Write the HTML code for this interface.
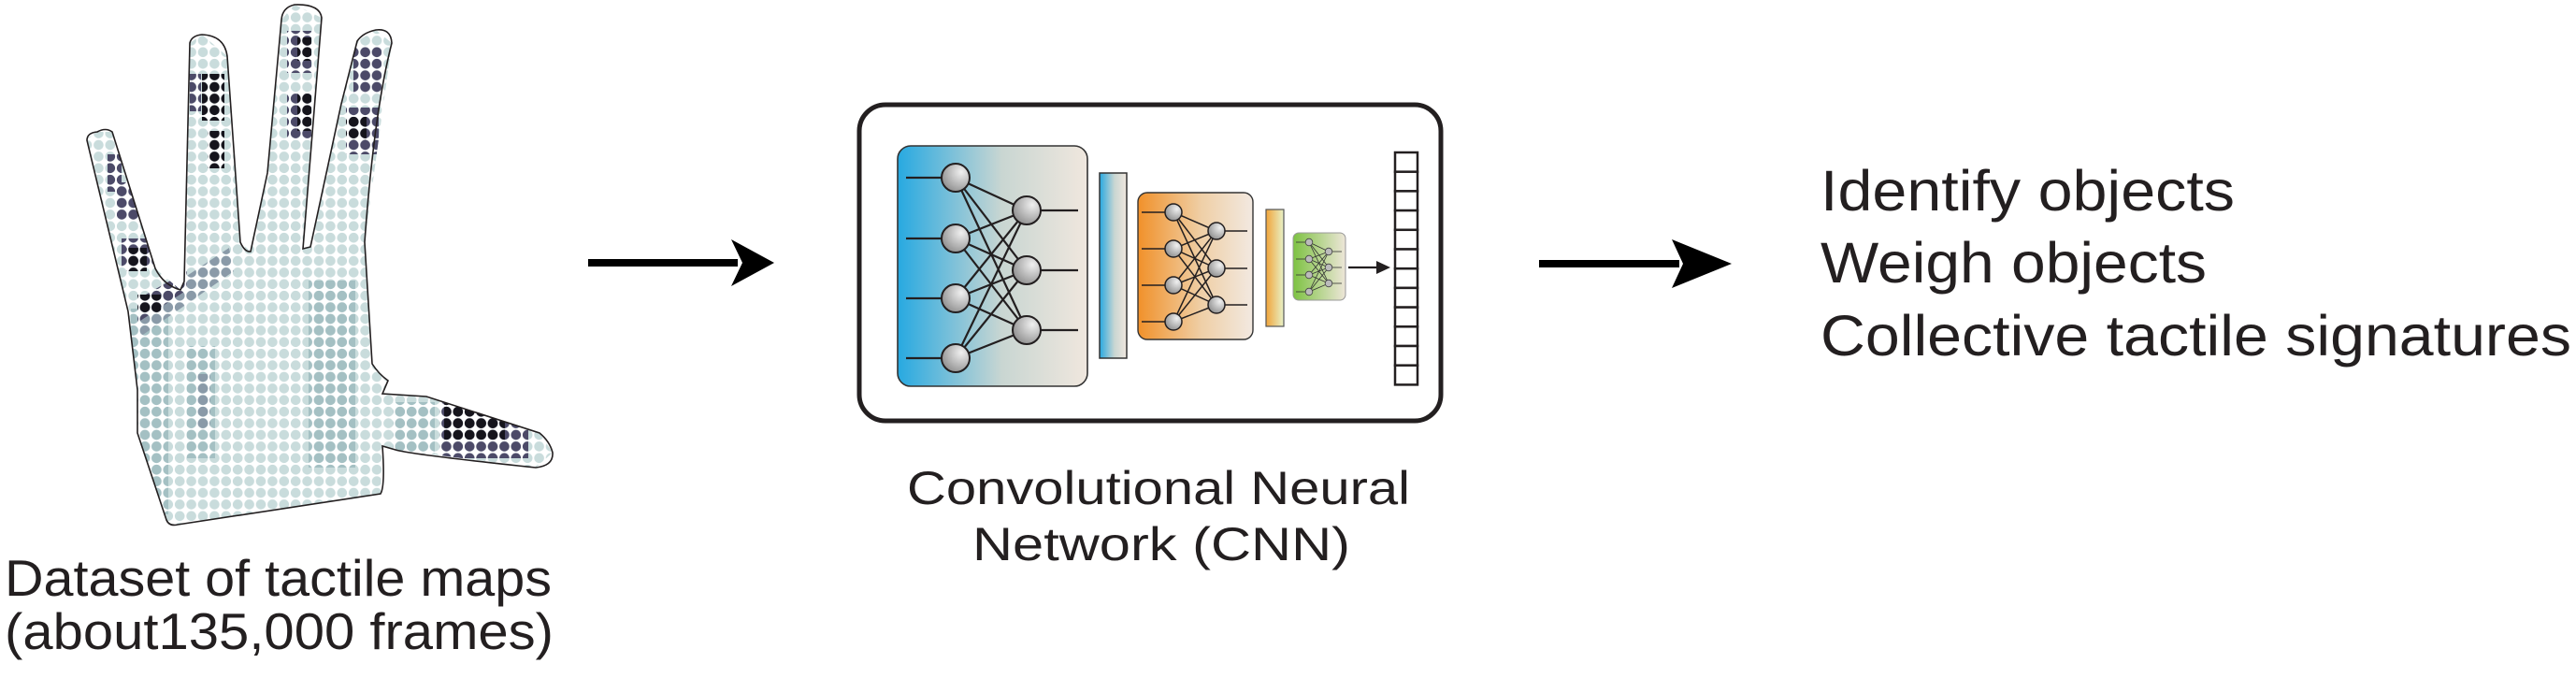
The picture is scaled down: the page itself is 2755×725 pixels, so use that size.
<!DOCTYPE html>
<html><head><meta charset="utf-8"><style>
html,body{margin:0;padding:0;background:#fff;}
svg{display:block;}
text{font-family:"Liberation Sans",Arial,sans-serif;fill:#231f20;}
</style></head><body>
<svg width="2755" height="725" viewBox="0 0 2755 725" xmlns="http://www.w3.org/2000/svg">
<defs>
  <pattern id="pl" patternUnits="userSpaceOnUse" width="12.4" height="12.4">
    <circle cx="6.2" cy="6.2" r="5.3" fill="#c9dcdc"/>
  </pattern>
  <pattern id="pm" patternUnits="userSpaceOnUse" width="12.4" height="12.4">
    <circle cx="6.2" cy="6.2" r="5.3" fill="#a4c0c3"/>
  </pattern>
  <pattern id="pg" patternUnits="userSpaceOnUse" width="12.4" height="12.4">
    <circle cx="6.2" cy="6.2" r="5.3" fill="#8a9aa8"/>
  </pattern>
  <pattern id="pp" patternUnits="userSpaceOnUse" width="12.4" height="12.4">
    <circle cx="6.2" cy="6.2" r="5.3" fill="#4c4a68"/>
  </pattern>
  <pattern id="pd" patternUnits="userSpaceOnUse" width="12.4" height="12.4">
    <circle cx="6.2" cy="6.2" r="5.3" fill="#15141c"/>
  </pattern>
  <clipPath id="hc">
    <path d="M104,141 L93,148 L137,333 L147,417 L147,463 L178,556 L183,562 L407,528 L409,477 L423,481 L573,500 L591,484 L577,463 L456,424 L409,421 L415,407 L398,389 L390,259 L419,46 L402,32 L382,44 L365,111 L332,264 L324,266 L344,19 L315,5 L301,21 L286,185 L268,269 L257,259 L243,60 L216,37 L203,46 L197,301 L193,310 L166,287 L120,141 Z"/>
  </clipPath>
  <linearGradient id="gb" x1="0" x2="1" y1="0" y2="0"><stop offset="0" stop-color="#27a9e1"/><stop offset="0.55" stop-color="#c9d6d2"/><stop offset="1" stop-color="#f0e7de"/></linearGradient>
  <linearGradient id="go" x1="0" x2="1" y1="0" y2="0"><stop offset="0" stop-color="#f1912a"/><stop offset="0.55" stop-color="#efcfa6"/><stop offset="1" stop-color="#f2e9e1"/></linearGradient>
  <linearGradient id="gy" x1="0" x2="1" y1="0" y2="0"><stop offset="0" stop-color="#f0a43a"/><stop offset="1" stop-color="#e8f2c8"/></linearGradient>
  <linearGradient id="gg" x1="0" x2="1" y1="0" y2="0"><stop offset="0" stop-color="#7dc242"/><stop offset="1" stop-color="#ede6d8"/></linearGradient>
  <radialGradient id="gn" cx="0.7" cy="0.3" r="0.8"><stop offset="0" stop-color="#f0f0f0"/><stop offset="1" stop-color="#8c8c8c"/></radialGradient>
</defs>

<!-- HAND -->
<g clip-path="url(#hc)">
  <rect x="0" y="0" width="620" height="600" fill="url(#pl)"/>
  <rect x="140" y="330" width="40" height="220" fill="url(#pm)"/>
  <rect x="200" y="370" width="30" height="120" fill="url(#pm)"/>
  <rect x="330" y="300" width="50" height="200" fill="url(#pm)"/>
  <rect x="210" y="400" width="15" height="60" fill="url(#pg)"/>
  <polygon points="147,330 245,265 250,290 150,360" fill="url(#pg)"/>
  <polygon points="147,320 200,290 200,310 147,345" fill="url(#pp)"/>
  <rect x="147" y="315" width="25" height="20" fill="url(#pd)"/>
  <rect x="216" y="79" width="24" height="50" fill="url(#pd)"/>
  <rect x="203" y="79" width="12" height="40" fill="url(#pp)"/>
  <rect x="222" y="140" width="18" height="40" fill="url(#pd)"/>
  <rect x="307" y="33" width="26" height="45" fill="url(#pp)"/>
  <rect x="318" y="40" width="15" height="25" fill="url(#pd)"/>
  <rect x="307" y="100" width="26" height="48" fill="url(#pp)"/>
  <rect x="318" y="100" width="15" height="40" fill="url(#pd)"/>
  <rect x="378" y="50" width="30" height="50" fill="url(#pp)"/>
  <rect x="370" y="115" width="35" height="50" fill="url(#pp)"/>
  <rect x="370" y="125" width="22" height="25" fill="url(#pd)"/>
  <rect x="115" y="165" width="15" height="40" fill="url(#pp)"/>
  <rect x="125" y="195" width="25" height="40" fill="url(#pp)"/>
  <rect x="130" y="255" width="40" height="30" fill="url(#pp)"/>
  <rect x="135" y="265" width="22" height="25" fill="url(#pd)"/>
  <rect x="470" y="430" width="95" height="60" fill="url(#pp)"/>
  <rect x="475" y="430" width="65" height="40" fill="url(#pd)"/>
  <rect x="420" y="430" width="45" height="55" fill="url(#pm)"/>
</g>
<path d="M104,141 Q93,142 93,150 L137,333 L147,417 L147,463 L178,556 Q181,563 190,561 L407,528 Q412,520 409,477 L423,481 Q440,486 573,500 Q592,498 591,484 Q588,472 577,463 L456,424 L409,421 L415,407 Q405,400 398,389 L390,259 Q400,120 419,46 Q418,30 402,32 Q388,35 382,44 L365,111 L332,264 L324,266 L344,19 Q342,4 315,5 Q302,8 301,21 L286,185 L268,269 Q262,270 257,259 L243,60 Q240,38 216,37 Q205,38 203,46 L197,301 L193,310 Q175,305 166,287 L120,141 Q113,136 104,141 Z" fill="none" stroke="#231f20" stroke-width="1.6"/>

<text x="5" y="637" font-size="55" textLength="585" lengthAdjust="spacingAndGlyphs">Dataset of tactile maps</text>
<text x="5" y="694" font-size="55" textLength="587" lengthAdjust="spacingAndGlyphs">(about135,000 frames)</text>

<!-- arrow 1 -->
<rect x="629" y="277" width="160" height="8" fill="#000"/>
<polygon points="782,256 828,281 782,306 794,281" fill="#000"/>

<!-- CNN box -->
<rect x="919" y="112" width="622" height="338" rx="28" fill="#fff" stroke="#231f20" stroke-width="5"/>

<!-- blue panel -->
<rect x="960" y="156" width="203" height="257" rx="14" fill="url(#gb)" stroke="#333" stroke-width="1.6"/>
<g stroke="#231f20" stroke-width="2.2">
  <line x1="969" y1="190" x2="1022" y2="190"/><line x1="969" y1="255" x2="1022" y2="255"/>
  <line x1="969" y1="319" x2="1022" y2="319"/><line x1="969" y1="383" x2="1022" y2="383"/>
  <line x1="1098" y1="225" x2="1153" y2="225"/><line x1="1098" y1="289" x2="1153" y2="289"/><line x1="1098" y1="353" x2="1153" y2="353"/>
  <line x1="1022" y1="190" x2="1098" y2="225"/><line x1="1022" y1="190" x2="1098" y2="289"/><line x1="1022" y1="190" x2="1098" y2="353"/>
  <line x1="1022" y1="255" x2="1098" y2="225"/><line x1="1022" y1="255" x2="1098" y2="289"/><line x1="1022" y1="255" x2="1098" y2="353"/>
  <line x1="1022" y1="319" x2="1098" y2="225"/><line x1="1022" y1="319" x2="1098" y2="289"/><line x1="1022" y1="319" x2="1098" y2="353"/>
  <line x1="1022" y1="383" x2="1098" y2="225"/><line x1="1022" y1="383" x2="1098" y2="289"/><line x1="1022" y1="383" x2="1098" y2="353"/>
</g>
<g fill="url(#gn)" stroke="#231f20" stroke-width="2">
  <ellipse cx="1022" cy="190" rx="15" ry="15"/><ellipse cx="1022" cy="255" rx="15" ry="15"/>
  <ellipse cx="1022" cy="319" rx="15" ry="15"/><ellipse cx="1022" cy="383" rx="15" ry="15"/>
  <ellipse cx="1098" cy="225" rx="15" ry="15"/><ellipse cx="1098" cy="289" rx="15" ry="15"/><ellipse cx="1098" cy="353" rx="15" ry="15"/>
</g>
<rect x="1176" y="185" width="29" height="198" fill="url(#gb)" stroke="#333" stroke-width="1.5"/>

<!-- orange panel -->
<rect x="1217" y="206" width="123" height="157" rx="10" fill="url(#go)" stroke="#333" stroke-width="1.4"/>
<g stroke="#231f20" stroke-width="1.5">
  <line x1="1221" y1="227" x2="1255" y2="227"/><line x1="1221" y1="266" x2="1255" y2="266"/>
  <line x1="1221" y1="305" x2="1255" y2="305"/><line x1="1221" y1="344" x2="1255" y2="344"/>
  <line x1="1301" y1="247" x2="1334" y2="247"/><line x1="1301" y1="287" x2="1334" y2="287"/><line x1="1301" y1="326" x2="1334" y2="326"/>
  <line x1="1255" y1="227" x2="1301" y2="247"/><line x1="1255" y1="227" x2="1301" y2="287"/><line x1="1255" y1="227" x2="1301" y2="326"/>
  <line x1="1255" y1="266" x2="1301" y2="247"/><line x1="1255" y1="266" x2="1301" y2="287"/><line x1="1255" y1="266" x2="1301" y2="326"/>
  <line x1="1255" y1="305" x2="1301" y2="247"/><line x1="1255" y1="305" x2="1301" y2="287"/><line x1="1255" y1="305" x2="1301" y2="326"/>
  <line x1="1255" y1="344" x2="1301" y2="247"/><line x1="1255" y1="344" x2="1301" y2="287"/><line x1="1255" y1="344" x2="1301" y2="326"/>
</g>
<g fill="url(#gn)" stroke="#231f20" stroke-width="1.5">
  <circle cx="1255" cy="227" r="9"/><circle cx="1255" cy="266" r="9"/><circle cx="1255" cy="305" r="9"/><circle cx="1255" cy="344" r="9"/>
  <circle cx="1301" cy="247" r="9"/><circle cx="1301" cy="287" r="9"/><circle cx="1301" cy="326" r="9"/>
</g>
<rect x="1354" y="224" width="19" height="125" fill="url(#gy)" stroke="#555" stroke-width="1.2"/>

<!-- green panel -->
<rect x="1383" y="249" width="56" height="72" rx="6" fill="url(#gg)" stroke="#999" stroke-width="1"/>
<g stroke="#333" stroke-width="0.8">
  <line x1="1386" y1="259" x2="1400" y2="259"/><line x1="1386" y1="277" x2="1400" y2="277"/><line x1="1386" y1="294" x2="1400" y2="294"/><line x1="1386" y1="312" x2="1400" y2="312"/>
  <line x1="1421" y1="269" x2="1435" y2="269"/><line x1="1421" y1="286" x2="1435" y2="286"/><line x1="1421" y1="303" x2="1435" y2="303"/>
  <line x1="1400" y1="259" x2="1421" y2="269"/><line x1="1400" y1="259" x2="1421" y2="286"/><line x1="1400" y1="259" x2="1421" y2="303"/>
  <line x1="1400" y1="277" x2="1421" y2="269"/><line x1="1400" y1="277" x2="1421" y2="286"/><line x1="1400" y1="277" x2="1421" y2="303"/>
  <line x1="1400" y1="294" x2="1421" y2="269"/><line x1="1400" y1="294" x2="1421" y2="286"/><line x1="1400" y1="294" x2="1421" y2="303"/>
  <line x1="1400" y1="312" x2="1421" y2="269"/><line x1="1400" y1="312" x2="1421" y2="286"/><line x1="1400" y1="312" x2="1421" y2="303"/>
</g>
<g fill="#bbb" stroke="#444" stroke-width="0.8">
  <circle cx="1400" cy="259" r="3.8"/><circle cx="1400" cy="277" r="3.8"/><circle cx="1400" cy="294" r="3.8"/><circle cx="1400" cy="312" r="3.8"/>
  <circle cx="1421" cy="269" r="3.8"/><circle cx="1421" cy="286" r="3.8"/><circle cx="1421" cy="303" r="3.8"/>
</g>
<line x1="1442" y1="286" x2="1475" y2="286" stroke="#231f20" stroke-width="2.2"/>
<polygon points="1472,279 1487,286 1472,293" fill="#231f20"/>

<!-- output column -->
<g fill="#fff" stroke="#231f20" stroke-width="2.5">
  <rect x="1492" y="163" width="24" height="20.7"/><rect x="1492" y="183.7" width="24" height="20.7"/>
  <rect x="1492" y="204.4" width="24" height="20.7"/><rect x="1492" y="225.1" width="24" height="20.7"/>
  <rect x="1492" y="245.8" width="24" height="20.7"/><rect x="1492" y="266.5" width="24" height="20.7"/>
  <rect x="1492" y="287.2" width="24" height="20.7"/><rect x="1492" y="307.9" width="24" height="20.7"/>
  <rect x="1492" y="328.6" width="24" height="20.7"/><rect x="1492" y="349.3" width="24" height="20.7"/>
  <rect x="1492" y="370" width="24" height="20.7"/><rect x="1492" y="390.7" width="24" height="20.7"/>
</g>

<text x="1239" y="539" font-size="50" text-anchor="middle" textLength="538" lengthAdjust="spacingAndGlyphs">Convolutional Neural</text>
<text x="1242" y="599" font-size="50" text-anchor="middle" textLength="404" lengthAdjust="spacingAndGlyphs">Network (CNN)</text>

<!-- arrow 2 -->
<rect x="1646" y="278" width="150" height="8" fill="#000"/>
<polygon points="1788,256 1852,282 1788,308 1800,282" fill="#000"/>

<text x="1947" y="225" font-size="61" textLength="443" lengthAdjust="spacingAndGlyphs" fill="#000">Identify objects</text>
<text x="1947" y="302" font-size="61" textLength="413" lengthAdjust="spacingAndGlyphs" fill="#000">Weigh objects</text>
<text x="1947" y="380" font-size="61" textLength="803" lengthAdjust="spacingAndGlyphs" fill="#000">Collective tactile signatures</text>
</svg>
</body></html>
